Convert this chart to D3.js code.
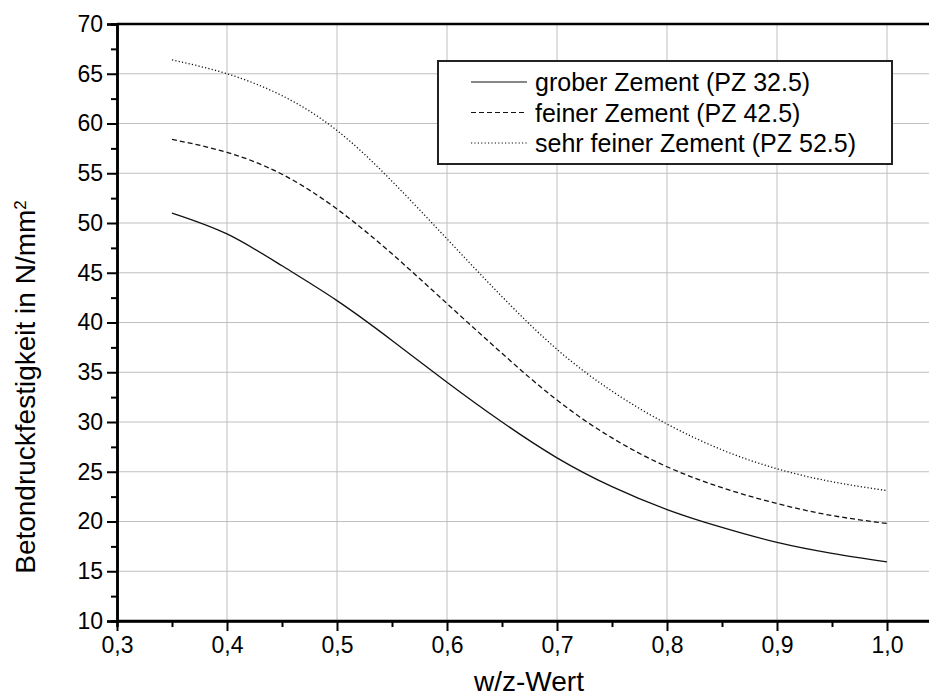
<!DOCTYPE html>
<html>
<head>
<meta charset="utf-8">
<script src="https://cdn.jsdelivr.net/npm/d3@7"></script>
<style>
  body { margin: 0; background: #fff; }
  svg { display: block; font-family: "Liberation Sans", Arial, sans-serif; }
</style>
</head>
<body>
<svg width="929" height="700"></svg>
<script>
// w/z-Wert values (x) and strength per cement type (N/mm²)
const wz = [0.35, 0.4, 0.45, 0.5, 0.55, 0.6, 0.65, 0.7, 0.75, 0.8, 0.85, 0.9, 0.95, 1.0];
const grob = [51.0, 48.9, 45.7, 42.2, 38.2, 34.0, 30.0, 26.4, 23.5, 21.2, 19.4, 17.9, 16.8, 15.95];
const fein = [58.4, 57.1, 54.9, 51.4, 46.9, 41.9, 36.9, 32.2, 28.4, 25.5, 23.4, 21.8, 20.6, 19.8];
const sehrFein = [66.4, 65.0, 62.8, 59.3, 54.2, 48.4, 42.6, 37.3, 33.1, 29.8, 27.2, 25.3, 24.0, 23.1];

const seriesNames = ["grober Zement (PZ 32.5)", "feiner Zement (PZ 42.5)", "sehr feiner Zement (PZ 52.5)"];
const xTicks = [0.3, 0.4, 0.5, 0.6, 0.7, 0.8, 0.9, 1.0];
const yTicks = [10, 15, 20, 25, 30, 35, 40, 45, 50, 55, 60, 65, 70];

const svg = d3.select("svg");
const plotLeft = 117, plotTop = 24, plotBottom = 621, plotRight = 929;

const x = d3.scaleLinear().domain([0.3, 1.04]).range([plotLeft, plotLeft + 0.74 * 1100]);
const y = d3.scaleLinear().domain([10, 70]).range([plotBottom, plotTop]);

// grid
const grid = svg.append("g").attr("stroke", "#c0c0c0").attr("stroke-width", 1);
grid.selectAll(".vg").data(xTicks.slice(1)).join("line")
  .attr("x1", d => x(d)).attr("x2", d => x(d))
  .attr("y1", plotTop).attr("y2", plotBottom);
grid.selectAll(".hg").data(yTicks.slice(1, -1)).join("line")
  .attr("x1", plotLeft).attr("x2", plotRight)
  .attr("y1", d => y(d)).attr("y2", d => y(d));

// curves
const styles = [
  { dash: null, width: 1.3 },
  { dash: "5,3", width: 1.3 },
  { dash: "1.2,2.2", width: 1.3 }
];
const allSeries = [grob, fein, sehrFein];
const line = d3.line().x(d => x(d[0])).y(d => y(d[1])).curve(d3.curveNatural);

allSeries.forEach((vals, i) => {
  svg.append("path")
    .datum(wz.map((w, j) => [w, vals[j]]))
    .attr("fill", "none")
    .attr("stroke", "#111")
    .attr("stroke-width", styles[i].width)
    .attr("stroke-dasharray", styles[i].dash)
    .attr("d", line);
});

// axes
const xAxis = svg.append("g").attr("transform", `translate(0,${plotBottom})`)
  .call(d3.axisBottom(x).tickValues(xTicks).tickSize(10).tickPadding(6)
    .tickFormat(d => d3.format(".1f")(d).replace(".", ",")));
svg.append("g").attr("transform", `translate(0,${plotBottom})`)
  .call(d3.axisBottom(x).tickValues(d3.range(0.35, 1.04, 0.1)).tickSize(6).tickFormat(""));

const yAxis = svg.append("g").attr("transform", `translate(${plotLeft},0)`)
  .call(d3.axisLeft(y).tickValues(yTicks).tickSize(10).tickPadding(4));
svg.append("g").attr("transform", `translate(${plotLeft},0)`)
  .call(d3.axisLeft(y).tickValues(d3.range(12.5, 70, 5)).tickSize(6).tickFormat(""));

svg.selectAll(".domain").attr("stroke", "#000").attr("stroke-width", 2.5);
svg.selectAll(".tick line").attr("stroke", "#000").attr("stroke-width", 2);
svg.selectAll(".tick text").attr("fill", "#000").style("font-size", "23px")
  .style("font-family", "'Liberation Sans', Arial, sans-serif");
xAxis.select(".domain").attr("d", `M${plotLeft},0H${plotRight}`);

// top frame line
svg.append("line").attr("x1", plotLeft).attr("x2", plotRight).attr("y1", plotTop).attr("y2", plotTop)
  .attr("stroke", "#000").attr("stroke-width", 2.5);

// axis titles
svg.append("text").attr("x", 529).attr("y", 691)
  .attr("text-anchor", "middle").style("font-size", "28px").text("w/z-Wert");

const yt = svg.append("text")
  .attr("transform", "translate(35,387) rotate(-90)")
  .attr("text-anchor", "middle").style("font-size", "28px");
yt.append("tspan").text("Betondruckfestigkeit in N/mm");
yt.append("tspan").attr("baseline-shift", "super").style("font-size", "17px").text("2");

// legend
const lg = svg.append("g");
lg.append("rect").attr("x", 438).attr("y", 61).attr("width", 454).attr("height", 103)
  .attr("fill", "#fff").attr("stroke", "#222").attr("stroke-width", 2);
seriesNames.forEach((name, i) => {
  const ly = 82 + i * 30.5;
  lg.append("line").attr("x1", 471).attr("x2", 527).attr("y1", ly).attr("y2", ly)
    .attr("stroke", "#111").attr("stroke-width", 1.2)
    .attr("stroke-dasharray", styles[i].dash);
  lg.append("text").attr("x", 535).attr("y", ly + 9).style("font-size", "25px").text(name);
});
</script>
</body>
</html>
